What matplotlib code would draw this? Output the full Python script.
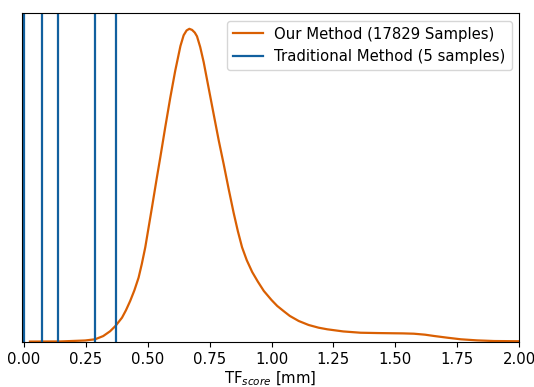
import numpy as np
import matplotlib
matplotlib.use("Agg")
import matplotlib.pyplot as plt

plt.rcParams["font.size"] = 10.7

# density of TF_score for our method
our_x = [0.024, 0.146, 0.247, 0.287, 0.320, 0.348, 0.370, 0.396, 0.412, 0.429,
         0.446, 0.463, 0.476, 0.490, 0.517, 0.537, 0.551, 0.571, 0.591, 0.611,
         0.632, 0.645, 0.657, 0.668, 0.679, 0.690, 0.699, 0.712, 0.726, 0.746,
         0.766, 0.787, 0.807, 0.827, 0.847, 0.864, 0.881, 0.900, 0.922, 0.945,
         0.969, 1.000, 1.023, 1.050, 1.074, 1.110, 1.150, 1.190, 1.225, 1.290,
         1.360, 1.430, 1.494, 1.530, 1.575, 1.620, 1.656, 1.710, 1.765, 1.830,
         1.899, 2.000, 2.100]
our_y = [0.004, 0.005, 0.014, 0.025, 0.055, 0.100, 0.150, 0.226, 0.295, 0.381,
         0.480, 0.598, 0.725, 0.880, 1.250, 1.530, 1.720, 2.000, 2.270, 2.520,
         2.750, 2.850, 2.895, 2.910, 2.900, 2.875, 2.840, 2.740, 2.600, 2.360,
         2.120, 1.870, 1.650, 1.420, 1.200, 1.030, 0.880, 0.760, 0.650, 0.560,
         0.474, 0.390, 0.335, 0.285, 0.242, 0.195, 0.158, 0.133, 0.118, 0.098,
         0.086, 0.083, 0.081, 0.080, 0.077, 0.068, 0.056, 0.040, 0.025, 0.015,
         0.009, 0.007, 0.003]

# traditional method samples
trad_x = [0.002, 0.073, 0.138, 0.287, 0.372]

our_label = "Our Method (17829 Samples)"
trad_label = "Traditional Method (5 samples)"

fig = plt.figure(figsize=(5.34, 3.87), dpi=100)
ax = fig.add_axes([0.0412, 0.1163, 0.9308, 0.8497])

ax.plot(our_x, our_y, color="#d95f02", lw=1.6, label=our_label)
for i, x in enumerate(trad_x):
    ax.axvline(x, color="#11609f", lw=1.6, label=trad_label if i == 0 else None)

ax.set_xlim(-0.008, 2.0)
ax.set_ylim(0, max(our_y) * 1.05)
ax.set_yticks([])
ax.set_xticks(np.arange(0, 2.01, 0.25))
ax.set_xlabel(r"TF$_{score}$ [mm]", labelpad=2)
ax.legend(loc="upper right")

fig.savefig("out.png")
